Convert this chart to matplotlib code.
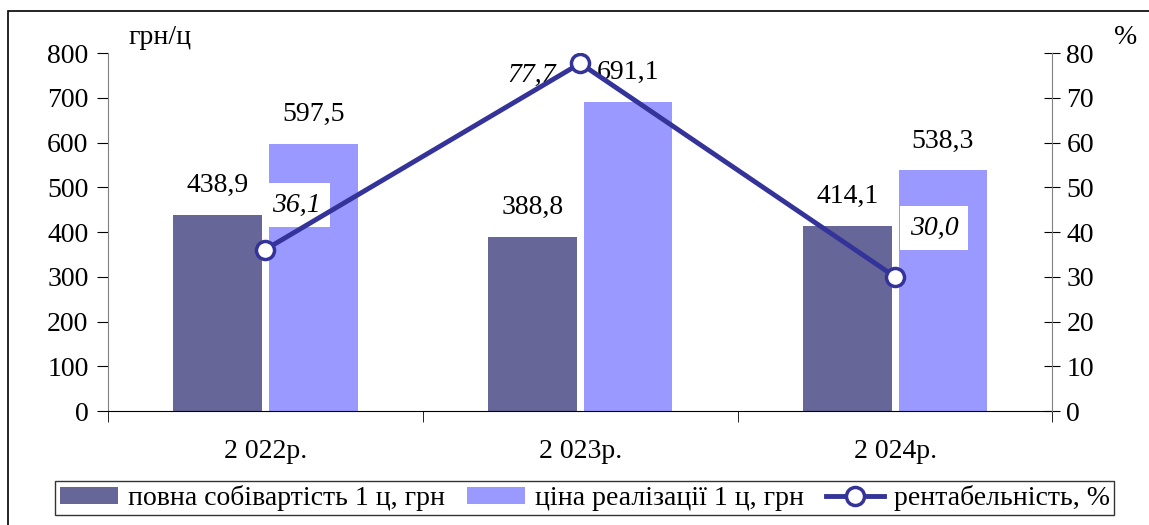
import matplotlib.pyplot as plt
from matplotlib.patches import Rectangle
import numpy as np

plt.rcParams['font.family'] = ['Liberation Serif', 'DejaVu Serif']

years = ["2 022р.", "2 023р.", "2 024р."]
cost = [438.9, 388.8, 414.1]
price = [597.5, 691.1, 538.3]
profit = [36.1, 77.7, 30.0]

cost_labels = ["438,9", "388,8", "414,1"]
price_labels = ["597,5", "691,1", "538,3"]
profit_labels = ["36,1", "77,7", "30,0"]

FS = 20

fig = plt.figure(figsize=(11.49, 5.25), dpi=100)
ax = fig.add_axes([0.094, 0.217, 0.822, 0.682])

# outer frame
fig.patches.append(Rectangle((0.007, -0.1), 1.2, 1.079, transform=fig.transFigure,
                             fill=False, edgecolor="black", linewidth=1.2))

x = np.arange(len(years))
w = 0.282
gap = 0.011
ax.bar(x - w / 2 - gap, cost, w, color="#666699", label="повна собівартість 1 ц, грн")
ax.bar(x + w / 2 + gap, price, w, color="#9999FF", label="ціна реалізації 1 ц, грн")

for i in range(len(years)):
    ax.annotate(cost_labels[i], (x[i] - w / 2 - gap, cost[i]), xytext=(0, 12),
                textcoords="offset points", ha="center", va="bottom", fontsize=FS)
    ax.annotate(price_labels[i], (x[i] + w / 2 + gap, price[i]), xytext=(0, 12),
                textcoords="offset points", ha="center", va="bottom", fontsize=FS)

ax.set_xlim(-0.5, 2.5)
ax.set_ylim(0, 800)
ax.set_yticks(range(0, 801, 100))
ax.set_xticks(x)
ax.set_xticklabels(years)
ax.set_xticks([-0.5, 0.5, 1.5, 2.5], minor=True)
ax.tick_params(axis="x", which="major", length=0, pad=20, labelsize=FS)
ax.tick_params(axis="x", which="minor", length=8, direction="out")
ax.tick_params(axis="y", length=8, direction="out", labelsize=FS, pad=6)
ax.spines["top"].set_visible(False)
ax.spines["right"].set_visible(False)
ax.spines["left"].set_color("#808080")

ax2 = ax.twinx()
ax2.set_ylim(0, 80)
ax2.set_yticks(range(0, 81, 10))
ax2.tick_params(axis="y", length=12, direction="inout", labelsize=FS, pad=4)
for s in ["top", "left", "bottom"]:
    ax2.spines[s].set_visible(False)
ax2.spines["right"].set_color("#808080")

ax2.plot(x, profit, color="#333399", linewidth=3.5, marker="o", markersize=13,
         markerfacecolor="white", markeredgecolor="#333399", markeredgewidth=2.5,
         label="рентабельність, %", zorder=3)

offsets = [(22, 32), (-35, -9), (28, 35)]
for i in range(len(years)):
    ax2.annotate(profit_labels[i], (x[i], profit[i]), xytext=offsets[i],
                 textcoords="offset points", ha="center", va="center",
                 fontsize=FS, style="italic", zorder=2,
                 bbox=dict(boxstyle="square,pad=0.35", facecolor="white", edgecolor="none"))

ax.set_zorder(ax2.get_zorder() - 1)
ax.patch.set_visible(False)

fig.text(0.112, 0.905, "грн/ц", fontsize=FS, ha="left", va="bottom")
fig.text(0.980, 0.905, "%", fontsize=FS, ha="center", va="bottom")

h1, l1 = ax.get_legend_handles_labels()
h2, l2 = ax2.get_legend_handles_labels()
leg = fig.legend(h1 + h2, l1 + l2, loc="center", bbox_to_anchor=(0.509, 0.051),
                 ncol=3, fontsize=FS, frameon=True, fancybox=False,
                 handlelength=2.1, handleheight=0.55, handletextpad=0.35,
                 columnspacing=0.8, borderpad=0.15, borderaxespad=0)
leg.get_frame().set_edgecolor("black")
leg.get_frame().set_linewidth(1.0)

fig.savefig("out.png", dpi=100)
